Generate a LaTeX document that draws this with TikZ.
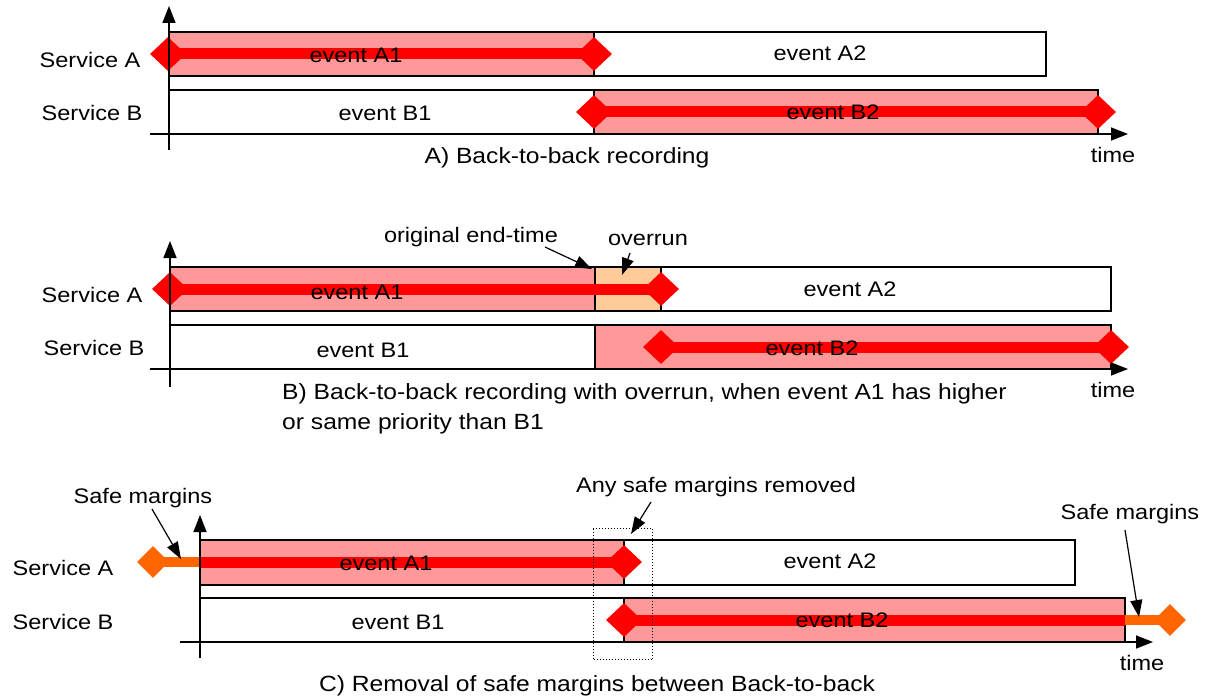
\documentclass[tikz,border=0pt]{standalone}
\usepackage{fontspec}
\setmainfont{Liberation Sans}[FakeStretch=1.12]
\usetikzlibrary{arrows.meta,shapes.geometric}
\definecolor{pinkf}{HTML}{FF9999}
\definecolor{redl}{HTML}{FF0000}
\definecolor{orl}{HTML}{FF6600}
\definecolor{overf}{HTML}{FFCC99}
\begin{document}
\begin{tikzpicture}[x=1pt,y=-1pt,
  box/.style={draw=black, line width=1.5pt, anchor=north west, inner sep=0pt, outer sep=0pt, minimum height=44pt},
  pbox/.style={box, fill=pinkf},
  wbox/.style={box, fill=white},
  obox/.style={box, fill=overf},
  dia/.style={diamond, fill=redl, inner sep=0pt, minimum width=36pt, minimum height=34pt},
  odia/.style={diamond, fill=orl, inner sep=0pt, minimum width=32pt, minimum height=32pt},
  redline/.style={draw=redl, line width=11pt},
  orline/.style={draw=orl, line width=10pt},
  axis/.style={draw=black, line width=1.5pt, -{Triangle[length=17pt,width=13pt]}},
  ann/.style={draw=black, line width=1.2pt, -{Triangle[length=17pt,width=12pt]}},
  txt/.style={inner sep=0pt, font=\fontsize{21}{25}\selectfont},
  captxt/.style={inner sep=0pt, font=\fontsize{22}{30}\selectfont}
]
\useasboundingbox (0,0) rectangle (1213,698);

% ================= Part A =================
\node[pbox, minimum width=425pt] (aA1) at (169,32) {};
\node[wbox, minimum width=452pt] (aA2) at (594,32) {};
\node[wbox, minimum width=425pt] (aB1) at (169,90) {};
\node[pbox, minimum width=504pt] (aB2) at (594,90) {};
\node[dia] (aA1s) at (168,54) {};
\node[dia] (aA1e) at (594,54) {};
\draw[redline] (aA1s.center) -- (aA1e.center);
\node[dia] (aB2s) at (594,112) {};
\node[dia] (aB2e) at (1098,112) {};
\draw[redline] (aB2s.center) -- (aB2e.center);
\coordinate (aY0) at (169,150);
\coordinate (aY1) at (169,6);
\coordinate (aX0) at (150,134);
\coordinate (aX1) at (1128,134);
\draw[axis] (aX0) -- (aX1);
\draw[axis] (aY0) -- (aY1);
\node[txt] (aSA) at (90,60) {Service A};
\node[txt] (aSB) at (92,113) {Service B};
\node[txt] (aTA1) at (356,55) {event A1};
\node[txt] (aTA2) at (820,53) {event A2};
\node[txt] (aTB1) at (385,113) {event B1};
\node[txt] (aTB2) at (833,112) {event B2};
\node[txt] (aTime) at (1113,155) {time};
\node[captxt] (aCap) at (567,158) {A) Back-to-back recording};

% ================= Part B =================
\node[pbox, minimum width=425pt] (bA1) at (170,267) {};
\node[obox, minimum width=67pt] (bOv) at (595,267) {};
\node[wbox, minimum width=450pt] (bA2) at (661,267) {};
\node[wbox, minimum width=425pt] (bB1) at (170,325) {};
\node[pbox, minimum width=516pt] (bB2) at (595,325) {};
\node[dia] (bA1s) at (170,289) {};
\node[dia] (bA1e) at (661,289) {};
\draw[redline] (bA1s.center) -- (bA1e.center);
\node[dia] (bB2s) at (661,347) {};
\node[dia] (bB2e) at (1111,347) {};
\draw[redline] (bB2s.center) -- (bB2e.center);
\coordinate (bY0) at (170,387);
\coordinate (bY1) at (170,241);
\coordinate (bX0) at (150,369);
\coordinate (bX1) at (1128,369);
\draw[axis] (bX0) -- (bX1);
\draw[axis] (bY0) -- (bY1);
\node[txt] (bSA) at (92,295) {Service A};
\node[txt] (bSB) at (94,348) {Service B};
\node[txt] (bTA1) at (357,292) {event A1};
\node[txt] (bTA2) at (850,289) {event A2};
\node[txt] (bTB1) at (363,350) {event B1};
\node[txt] (bTB2) at (812,348) {event B2};
\node[txt] (bTime) at (1113,390) {time};
\node[txt] (bOrig) at (471,237) {original end-time};
\node[txt] (bOver) at (648,240) {overrun};
\coordinate (bOrigA) at (545,247);
\coordinate (bOrigB) at (592,269);
\coordinate (bOverA) at (630,253);
\coordinate (bOverB) at (622,275);
\draw[ann] (bOrigA) -- (bOrigB);
\draw[ann] (bOverA) -- (bOverB);
\node[captxt, anchor=west] (bCap1) at (282,394) {B) Back-to-back recording with overrun, when event A1 has higher};
\node[captxt, anchor=west] (bCap2) at (282,424) {or same priority than B1};

% ================= Part C =================
\node[pbox, minimum width=424pt, minimum height=45pt] (cA1) at (200,540) {};
\node[wbox, minimum width=451pt, minimum height=45pt] (cA2) at (624,540) {};
\node[wbox, minimum width=424pt] (cB1) at (200,598) {};
\node[pbox, minimum width=501pt] (cB2) at (624,598) {};
\node[odia] (cOs) at (153,562) {};
\coordinate (cAx) at (200,562);
\draw[orline] (cOs.center) -- (cAx);
\node[dia] (cA1e) at (624,562) {};
\draw[redline] (cAx) -- (cA1e.center);
\node[dia] (cB2s) at (624,620) {};
\coordinate (cBe) at (1125,620);
\draw[redline] (cB2s.center) -- (cBe);
\node[odia] (cOe) at (1170,620) {};
\draw[orline] (cBe) -- (cOe.center);
\node[draw=black, line width=1pt, dotted, anchor=north west, inner sep=0pt, minimum width=59pt, minimum height=131pt] (cDot) at (593,528) {};
\coordinate (cY0) at (200,658);
\coordinate (cY1) at (200,515);
\coordinate (cX0) at (180,642);
\coordinate (cX1) at (1153,642);
\draw[axis] (cX0) -- (cX1);
\draw[axis] (cY0) -- (cY1);
\node[txt] (cSA) at (63,568) {Service A};
\node[txt] (cSB) at (63,622) {Service B};
\node[txt] (cTA1) at (386,563) {event A1};
\node[txt] (cTA2) at (830,561) {event A2};
\node[txt] (cTB1) at (398,622) {event B1};
\node[txt] (cTB2) at (842,620) {event B2};
\node[txt] (cTime) at (1142,663) {time};
\node[txt] (cSM1) at (143,498) {Safe margins};
\node[txt] (cAny) at (716,487) {Any safe margins removed};
\node[txt] (cSM2) at (1130,514) {Safe margins};
\coordinate (cSM1a) at (152,509);
\coordinate (cSM1b) at (181,559);
\coordinate (cAnya) at (651,502);
\coordinate (cAnyb) at (631,534);
\coordinate (cSM2a) at (1125,530);
\coordinate (cSM2b) at (1139,617);
\draw[ann] (cSM1a) -- (cSM1b);
\draw[ann] (cAnya) -- (cAnyb);
\draw[ann] (cSM2a) -- (cSM2b);
\node[captxt] (cCap) at (597,686) {C) Removal of safe margins between Back-to-back};
\end{tikzpicture}
\end{document}
